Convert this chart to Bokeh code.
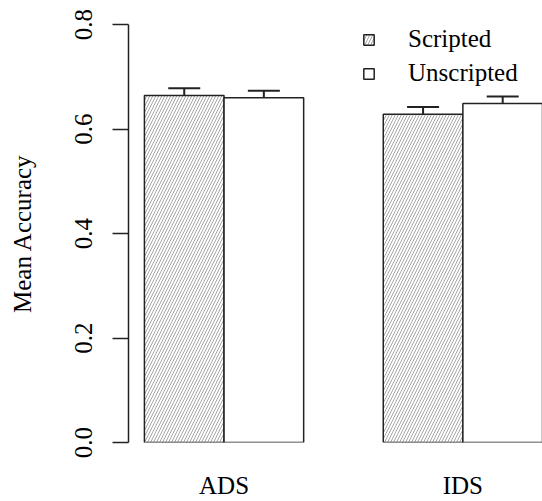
from bokeh.plotting import figure
from bokeh.models import (ColumnDataSource, Whisker, TeeHead, FixedTicker, LinearAxis,
                          Legend, LegendItem, Range1d, PrintfTickFormatter)
from bokeh.embed import file_html
from bokeh.resources import INLINE

categories = ["ADS", "IDS"]
conditions = ["Scripted", "Unscripted"]
scripted = [0.664, 0.628]
scripted_se = [0.014, 0.014]
unscripted = [0.660, 0.649]
unscripted_se = [0.013, 0.013]
y_ticks = [0.0, 0.2, 0.4, 0.6, 0.8]

FONT = "Liberation Serif"
FS = "25px"
centers = [2 + 3 * i for i in range(len(categories))]

src_s = ColumnDataSource(dict(
    x=[c - 0.5 for c in centers], top=scripted,
    upper=[m + e for m, e in zip(scripted, scripted_se)],
    lower=[m - e for m, e in zip(scripted, scripted_se)]))
src_u = ColumnDataSource(dict(
    x=[c + 0.5 for c in centers], top=unscripted,
    upper=[m + e for m, e in zip(unscripted, unscripted_se)],
    lower=[m - e for m, e in zip(unscripted, unscripted_se)]))

p = figure(width=542, height=501, output_backend="svg", toolbar_location=None,
           x_range=Range1d(0.8, 6.0), y_range=Range1d(0, 0.8),
           x_axis_location=None,
           min_border_left=128, min_border_right=0, min_border_top=24, min_border_bottom=59)
p.grid.visible = False
p.outline_line_color = None

r_s = p.vbar(x="x", top="top", bottom=0, width=1, source=src_s,
             fill_color="white", line_color="#222222", line_width=1.5,
             hatch_pattern="/", hatch_color="#a6a6a6", hatch_scale=6, hatch_weight=1)
r_u = p.vbar(x="x", top="top", bottom=0, width=1, source=src_u,
             fill_color="white", line_color="#222222", line_width=1.5)

for src in (src_s, src_u):
    w = Whisker(base="x", upper="upper", lower="lower", source=src,
                line_color="#222222", line_width=2,
                upper_head=TeeHead(size=32, line_width=2, line_color="#222222"),
                lower_head=TeeHead(size=32, line_width=2, line_color="#222222"))
    p.add_layout(w)

# y axis
yax = p.yaxis[0]
yax.ticker = FixedTicker(ticks=y_ticks)
yax.formatter = PrintfTickFormatter(format="%.1f")
yax.major_label_orientation = "parallel"
yax.major_label_text_font = FONT
yax.major_label_text_font_size = FS
yax.major_label_text_color = "black"
yax.major_label_standoff = 21
yax.major_tick_out = 16
yax.major_tick_in = 0
yax.minor_tick_line_color = None
yax.axis_line_color = "#222222"
yax.axis_line_width = 1.5
yax.major_tick_line_width = 1.5
yax.major_tick_line_color = "#222222"
yax.axis_label = "Mean Accuracy"
yax.axis_label_text_font = FONT
yax.axis_label_text_font_size = FS
yax.axis_label_text_font_style = "normal"
yax.axis_label_text_color = "black"
yax.axis_label_standoff = 36

# x axis (category labels only)
xax = LinearAxis(ticker=FixedTicker(ticks=centers),
                 major_label_overrides={c: lab for c, lab in zip(centers, categories)})
xax.axis_line_color = None
xax.major_tick_line_color = None
xax.minor_tick_line_color = None
xax.major_label_text_font = FONT
xax.major_label_text_font_size = FS
xax.major_label_text_color = "black"
xax.major_label_standoff = 23
p.add_layout(xax, "below")

legend = Legend(items=[LegendItem(label=conditions[0], renderers=[r_s]),
                       LegendItem(label=conditions[1], renderers=[r_u])],
                location=(234, 355), orientation="vertical",
                glyph_width=13, glyph_height=13, label_standoff=33,
                label_height=28, spacing=6, padding=0, margin=0,
                border_line_color=None, background_fill_alpha=0,
                label_text_font=FONT, label_text_font_size=FS,
                label_text_color="black")
p.add_layout(legend)

open("out.html", "w").write(file_html(p, INLINE))
